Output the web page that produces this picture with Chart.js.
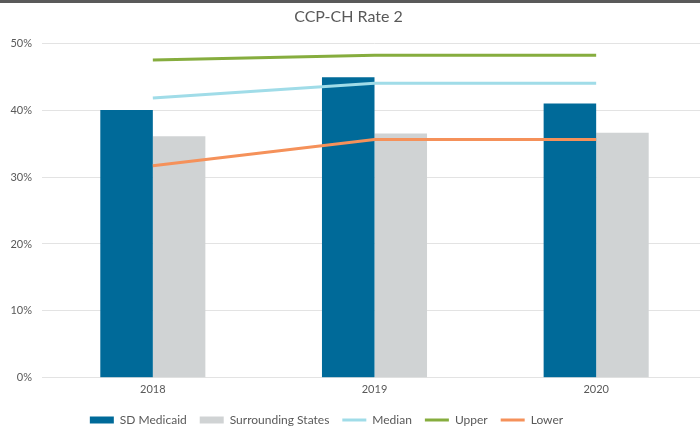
<!DOCTYPE html>
<html>
<head>
<meta charset="utf-8">
<script src="https://cdn.jsdelivr.net/npm/chart.js@4.4.1/dist/chart.umd.min.js"></script>
<style>
    html, body { margin: 0; padding: 0; background: #fff; overflow: hidden; }
    #wrap { position: relative; width: 700px; height: 430px; overflow: hidden; }
    #wrap:before { content: ''; position: absolute; left: 0; top: 0; right: 0; height: 3px; background: #5a5a5a; z-index: 2; }
    #box { width: 710px; height: 430px; }
</style>
</head>
<body>
<div id="wrap"><div id="box"><canvas id="chart"></canvas></div></div>
<script>
const years = ['2018', '2019', '2020'];
const sdMedicaid = [40.0, 44.9, 41.0];
const surrounding = [36.1, 36.5, 36.6];
const median = [41.8, 44.0, 44.0];
const upper = [47.5, 48.2, 48.2];
const lower = [31.7, 35.6, 35.6];

const grey = '#595959';
const font = 'Lato, "Open Sans", sans-serif';

// excel puts the legend a bit left of centre, nudge ours the same way
const shiftBoxes = {
    id: 'shiftBoxes',
    afterLayout(c) {
        c.legend.left -= 27; c.legend.right -= 27;
        c.titleBlock.left -= 5; c.titleBlock.right -= 5;
    }
};

const lineSet = (label, data, color) => ({
    type: 'line', label, data, borderColor: color, backgroundColor: color,
    borderWidth: 3, pointRadius: 0, pointStyle: 'line', tension: 0, order: -1
});

new Chart(document.getElementById('chart'), {
    type: 'bar',
    data: {
        labels: years,
        datasets: [
            { label: 'SD Medicaid', data: sdMedicaid, backgroundColor: '#006a99', pointStyle: 'rect',
              barPercentage: 1, categoryPercentage: 0.474 },
            { label: 'Surrounding States', data: surrounding, backgroundColor: '#d0d3d4', pointStyle: 'rect',
              barPercentage: 1, categoryPercentage: 0.474 },
            lineSet('Median', median, '#a0dce8'),
            lineSet('Upper', upper, '#86ad3e'),
            lineSet('Lower', lower, '#f5915a')
        ]
    },
    options: {
        responsive: true,
        maintainAspectRatio: false,
        animation: false,
        layout: { padding: { left: 0, right: 3, top: 0, bottom: -6 } },
        plugins: {
            title: {
                display: true, text: 'CCP-CH Rate 2', color: grey,
                font: { family: font, size: 16, weight: 'normal' },
                padding: { top: 7, bottom: 17 }
            },
            legend: {
                position: 'bottom',
                labels: {
                    color: grey, font: { family: font, size: 12 },
                    usePointStyle: true, pointStyleWidth: 24, boxWidth: 24, boxHeight: 7,
                    padding: 13,
                    sort: (a, b) => a.datasetIndex - b.datasetIndex
                }
            },
            tooltip: { enabled: false }
        },
        scales: {
            x: {
                grid: { display: false, drawTicks: false },
                border: { display: false },
                ticks: { color: grey, font: { family: font, size: 11 }, padding: 5 }
            },
            y: {
                min: 0, max: 50,
                afterFit: s => { s.width = 42; },
                grid: { color: '#e3e3e3', lineWidth: 1, drawTicks: false },
                border: { display: false },
                ticks: { stepSize: 10, color: grey, font: { family: font, size: 11 }, padding: 10,
                         callback: v => v + '%' }
            }
        }
    },
    plugins: [shiftBoxes]
});
</script>
</body>
</html>
